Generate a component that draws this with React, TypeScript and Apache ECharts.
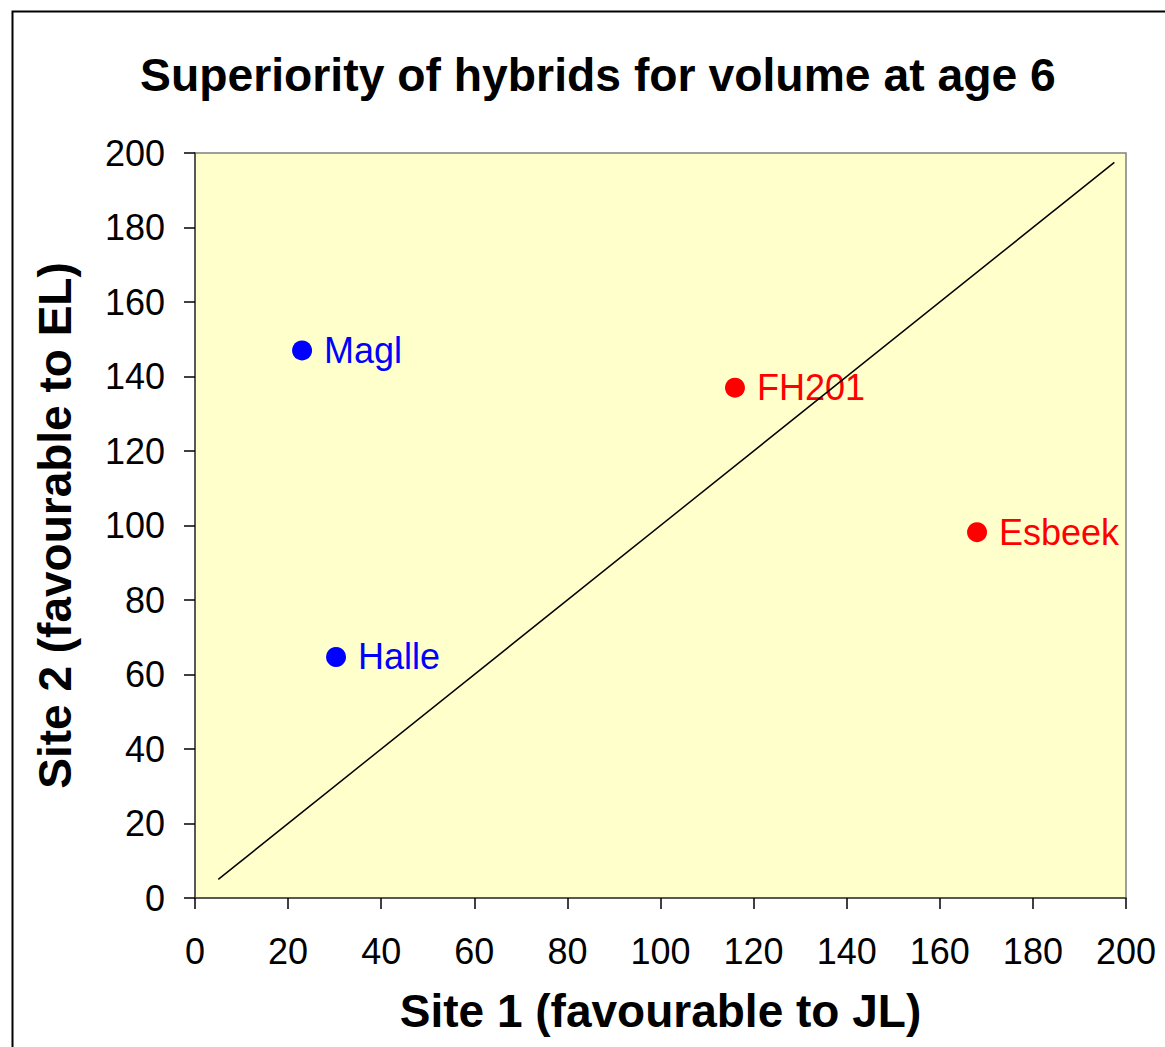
import React, { useEffect, useRef } from "react";
import * as echarts from "echarts";

const titleText = "Superiority of hybrids for volume at age 6";
const xName = "Site 1 (favourable to JL)";
const yName = "Site 2 (favourable to EL)";
const blueNames = ["Magl", "Halle"];
const blueX = [23, 30.3];
const blueY = [147, 64.7];
const redNames = ["FH201", "Esbeek"];
const redX = [116, 168];
const redY = [137, 98.2];
const lineX = [5, 197.5];
const lineY = [5, 197.5];

const FONT = "'Liberation Sans', Arial, sans-serif";

export default function App() {
  const ref = useRef<HTMLDivElement>(null);
  useEffect(() => {
    const chart = echarts.init(ref.current!, null, { renderer: "svg" });
    const label = (color: string) => ({
      show: true,
      position: "right",
      distance: 12,
      formatter: (p: any) => p.data.name,
      color,
      fontSize: 36,
      fontFamily: FONT,
    });
    chart.setOption({
      animation: false,
      backgroundColor: "#ffffff",
      textStyle: { fontFamily: FONT },
      title: {
        text: titleText,
        left: 140,
        top: 52,
        padding: 0,
        textStyle: { fontSize: 46.3, fontWeight: "bold", color: "#000", fontFamily: FONT },
      },
      graphic: [
        {
          type: "rect",
          shape: { x: 12.5, y: 11.5, width: 1200, height: 1100 },
          style: { fill: "none", stroke: "#000", lineWidth: 2 },
          silent: true,
        },
      ],
      grid: {
        left: 195,
        top: 153,
        right: 39,
        bottom: 149,
        show: true,
        backgroundColor: "#FFFFCC",
        borderColor: "#808080",
        borderWidth: 1.5,
      },
      xAxis: {
        type: "value",
        min: 0,
        max: 200,
        interval: 20,
        name: xName,
        nameLocation: "middle",
        nameGap: 90,
        nameTextStyle: { fontSize: 46, fontWeight: "bold", color: "#000", fontFamily: FONT },
        axisLine: { show: true, lineStyle: { color: "#404040", width: 1.5 } },
        axisTick: { show: true, length: 11, lineStyle: { color: "#000", width: 1.5 } },
        axisLabel: { fontSize: 36, color: "#000", margin: 35, fontFamily: FONT },
        splitLine: { show: false },
      },
      yAxis: {
        type: "value",
        min: 0,
        max: 200,
        interval: 20,
        name: yName,
        nameLocation: "middle",
        nameGap: 117,
        nameTextStyle: { fontSize: 46, fontWeight: "bold", color: "#000", fontFamily: FONT },
        axisLine: { show: true, lineStyle: { color: "#404040", width: 1.5 } },
        axisTick: { show: true, length: 11, lineStyle: { color: "#000", width: 1.5 } },
        axisLabel: { fontSize: 36, color: "#000", margin: 30, fontFamily: FONT },
        splitLine: { show: false },
      },
      series: [
        {
          type: "line",
          data: lineX.map((x, i) => [x, lineY[i]]),
          showSymbol: false,
          symbol: "none",
          lineStyle: { color: "#000", width: 1.5 },
          silent: true,
        },
        {
          type: "scatter",
          symbol: "circle",
          symbolSize: 20,
          itemStyle: { color: "#0000FF", opacity: 1 },
          label: label("#0000FF"),
          data: blueNames.map((n, i) => ({ name: n, value: [blueX[i], blueY[i]] })),
        },
        {
          type: "scatter",
          symbol: "circle",
          symbolSize: 20,
          itemStyle: { color: "#FF0000", opacity: 1 },
          label: label("#FF0000"),
          data: redNames.map((n, i) => ({ name: n, value: [redX[i], redY[i]] })),
        },
      ],
    });
    return () => chart.dispose();
  }, []);
  return (
    <div
      ref={ref}
      style={{ position: "absolute", left: 0, top: 0, width: 1165, height: 1047 }}
    />
  );
}
